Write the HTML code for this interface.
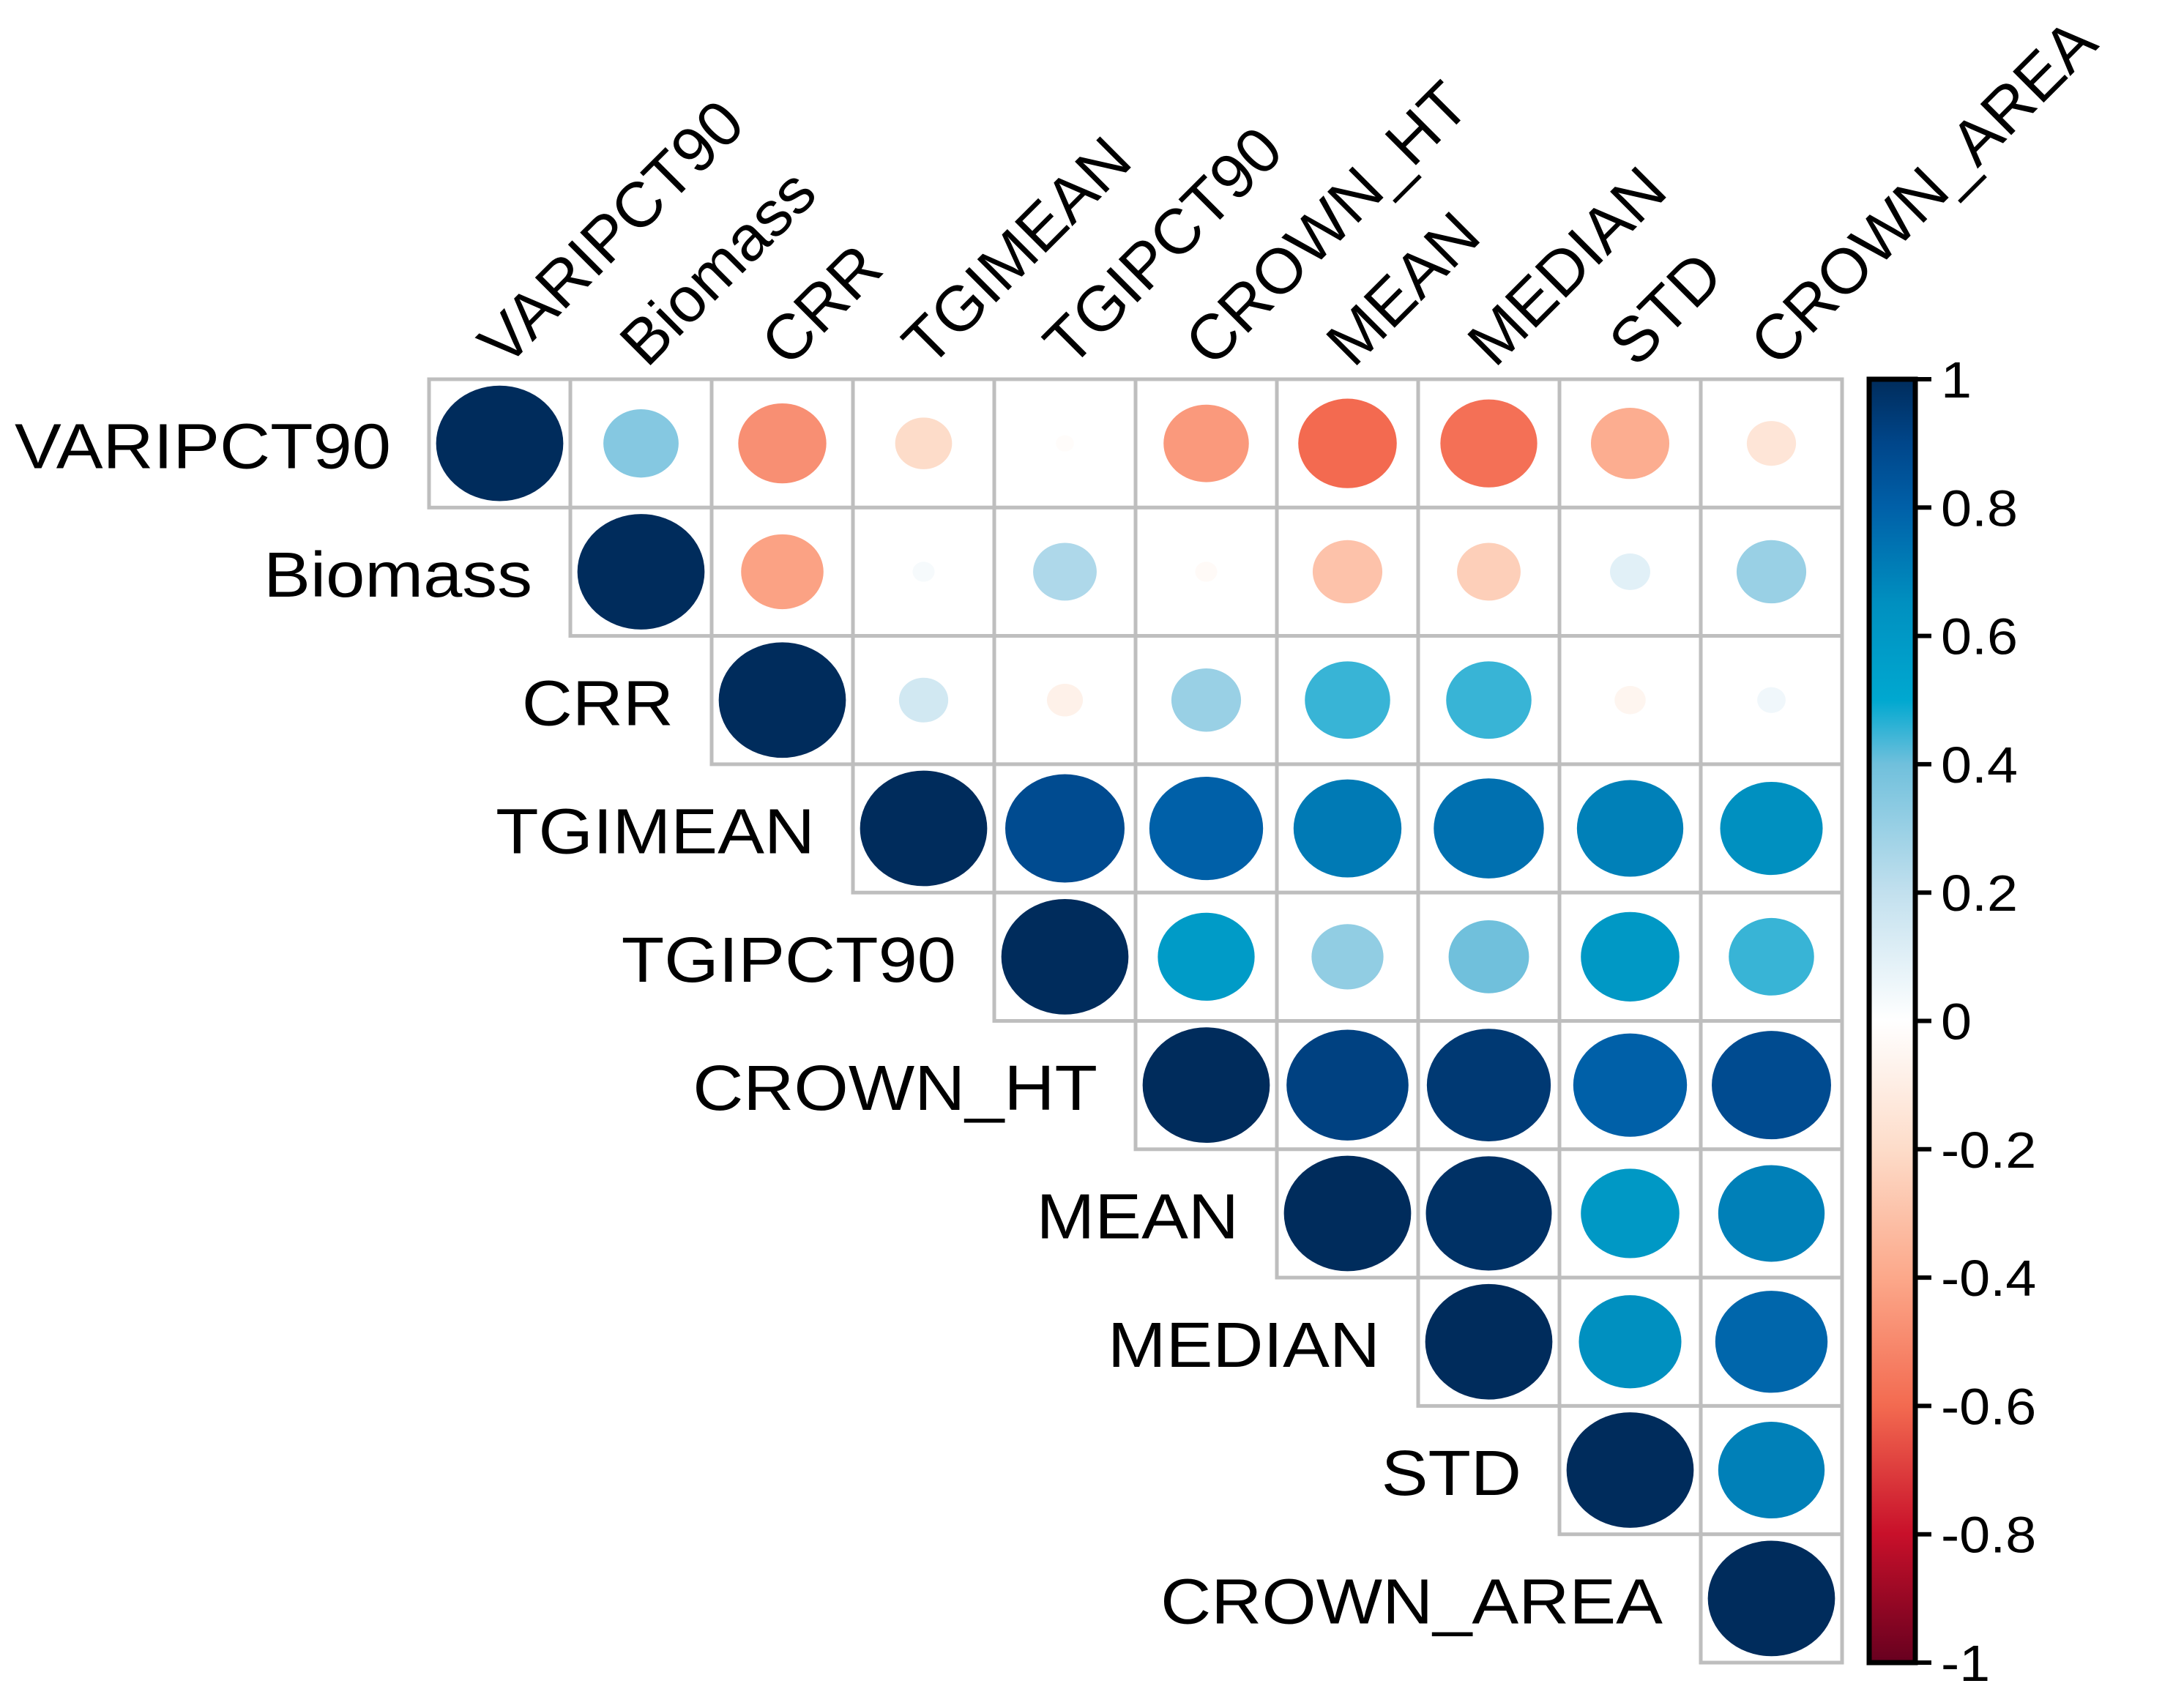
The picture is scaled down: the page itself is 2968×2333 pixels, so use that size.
<!DOCTYPE html>
<html><head><meta charset="utf-8"><style>
html,body{margin:0;padding:0;background:#fff;}
svg text{font-family:"Liberation Sans",sans-serif;fill:#000;}
</style></head><body>
<svg id="chart" width="2968" height="2328" viewBox="0 0 2968 2328" xmlns="http://www.w3.org/2000/svg">
<defs>
<linearGradient id="cbgrad" x1="0" y1="1" x2="0" y2="0"></linearGradient>
</defs>
<g id="cells"></g>
<g id="labels"></g>
<g id="colorbar"></g>
</svg>
<script>
const variables = ["VARIPCT90","Biomass","CRR","TGIMEAN","TGIPCT90","CROWN_HT","MEAN","MEDIAN","STD","CROWN_AREA"];
// upper triangle rows (values from diagonal onward)
const row0 = [1, 0.35, -0.48, -0.2, -0.02, -0.45, -0.6, -0.58, -0.38, -0.15];
const row1 = [1, -0.42, 0.03, 0.25, -0.03, -0.3, -0.25, 0.1, 0.3];
const row2 = [1, 0.15, -0.08, 0.3, 0.45, 0.45, -0.06, 0.05];
const row3 = [1, 0.88, 0.8, 0.72, 0.75, 0.7, 0.65];
const row4 = [1, 0.58, 0.32, 0.4, 0.6, 0.45];
const row5 = [1, 0.92, 0.95, 0.8, 0.88];
const row6 = [1, 0.98, 0.6, 0.7];
const row7 = [1, 0.65, 0.78];
const row8 = [1, 0.7];
const row9 = [1];
const rows = [row0,row1,row2,row3,row4,row5,row6,row7,row8,row9];
const cbTicks = [1,0.8,0.6,0.4,0.2,0,-0.2,-0.4,-0.6,-0.8,-1];
const cbTickLabels = ["1","0.8","0.6","0.4","0.2","0","-0.2","-0.4","-0.6","-0.8","-1"];

const NS="http://www.w3.org/2000/svg";
const L=586, T=518, CW=193, CH=175.3;
const xPos=j=>L+j*CW, yPos=i=>T+i*CH;
const stops=[[-1,"#67001F"],[-0.8,"#C8102A"],[-0.6,"#F36A50"],[-0.4,"#FCA88A"],[-0.2,"#FDDCC9"],[0,"#FFFFFF"],[0.2,"#C2E0EE"],[0.4,"#70C0DC"],[0.5,"#00A8D0"],[0.65,"#0090C0"],[0.8,"#0060A8"],[0.9,"#00468A"],[1,"#002C5C"]];
function hex(c){return [1,3,5].map(k=>parseInt(c.substr(k,2),16));}
function color(v){for(let k=0;k<stops.length-1;k++){const [v0,c0]=stops[k],[v1,c1]=stops[k+1];if(v<=v1||k===stops.length-2){const f=Math.max(0,Math.min(1,(v-v0)/(v1-v0)));const a=hex(c0),b=hex(c1);return "rgb("+a.map((x,m)=>Math.round(x+(b[m]-x)*f)).join(",")+")";}}}
function mk(tag,attrs,parent){const e=document.createElementNS(NS,tag);for(const k in attrs)e.setAttribute(k,attrs[k]);parent.appendChild(e);return e;}
const grad=document.getElementById('cbgrad');
stops.forEach(s=>mk('stop',{offset:(s[0]+1)/2,'stop-color':s[1]},grad));
const gc=document.getElementById('cells'), gl=document.getElementById('labels'), gb=document.getElementById('colorbar');
rows.forEach((r,i)=>{r.forEach((v,k)=>{const j=i+k;
 const rect=mk('rect',{x:xPos(j),y:yPos(i),width:CW,height:CH,fill:'#fff',stroke:'#bebebe','stroke-width':5},gc);
 
 
 const s=Math.sqrt(Math.abs(v));
 const el=mk('ellipse',{cx:xPos(j)+CW/2,cy:yPos(i)+CH/2,rx:0.45*CW*s,ry:0.45*CH*s,fill:color(v)},gc);
 
 
});});
variables.forEach((n,i)=>{
 const rx=xPos(i)-52, ry=yPos(i)+CH/2+34;
 const t=mk('text',{x:0,y:0,'text-anchor':'end','font-size':87,transform:'translate('+rx+' '+ry+') scale(1.1 1)'},gl);t.textContent=n;
 
 
 const cx=xPos(i)+CW/2+8, cy=T-14;
 const c=mk('text',{x:0,y:0,'font-size':87,transform:'translate('+cx+' '+cy+') rotate(-45)'},gl);c.textContent=n;
 
 
});
const CBX=2553, CBW=63, CBT=T, CBB=T+10*CH;
const cbr=mk('rect',{x:CBX,y:CBT,width:CBW,height:CBB-CBT,fill:'url(#cbgrad)',stroke:'#000','stroke-width':7},gb);


const cy=v=>CBB-(v+1)/2*(CBB-CBT);
cbTicks.forEach((v,k)=>{
 const ln=mk('line',{x1:CBX+CBW,x2:CBX+CBW+22,y1:cy(v),y2:cy(v),stroke:'#000','stroke-width':6},gb);
 
 
 const tx=mk('text',{x:0,y:0,'font-size':70,transform:'translate(2651 '+(cy(v)+25)+') scale(1.08 1)'},gb);tx.textContent=cbTickLabels[k];
 
 
});
</script>
</body></html>
